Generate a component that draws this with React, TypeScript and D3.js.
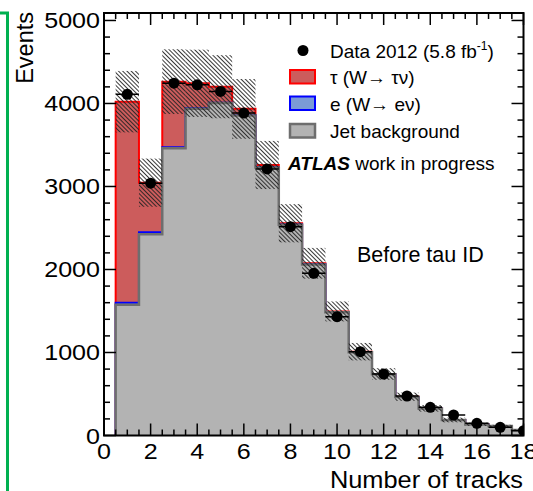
import React from 'react';
import * as d3 from 'd3';

const W = 533;
const H = 491;

// bin centres (number of tracks)
const bins = [1, 2, 3, 4, 5, 6, 7, 8, 9, 10, 11, 12, 13, 14, 15, 16, 17, 18];
const jetBackground = [1575, 2425, 3460, 3935, 4005, 3855, 3228, 2540, 2060, 1484, 1003, 737, 464, 326, 186, 134, 113, 66];
const electronWev = [25, 23, 12, 7, 5, 4, 3, 2, 2, 1, 1, 0, 0, 0, 0, 0, 0, 0];
const tauWtaunu = [2422, 598, 791, 301, 192, 76, 28, 15, 13, 10, 6, 4, 3, 2, 1, 1, 1, 0];
const data2012 = [4110, 3040, 4245, 4225, 4145, 3885, 3211, 2516, 1954, 1431, 1010, 741, 476, 340, 247, 147, 99, 58];
const systErr = [370, 290, 390, 405, 380, 360, 290, 230, 185, 120, 105, 70, 50, 40, 28, 20, 15, 10];

const xTickLabels = [0, 2, 4, 6, 8, 10, 12, 14, 16, 18];
const yTickLabels = [0, 1000, 2000, 3000, 4000, 5000];

const FONT = "'Liberation Sans', Arial, Helvetica, sans-serif";

const left = 104, right = 523.5, top = 13, bottom = 435.5;
const x = d3.scaleLinear().domain([0, 18]).range([left, right]);
const y = d3.scaleLinear().domain([0, 5090]).range([bottom, top]);

const jetStack = jetBackground;
const eStack = jetBackground.map((v, i) => v + electronWev[i]);
const tauStack = eStack.map((v, i) => v + tauWtaunu[i]);

function stepPath(vals: number[]): string {
  const pts: [number, number][] = [[bins[0] - 0.5, 0]];
  bins.forEach((b, i) => {
    pts.push([b - 0.5, vals[i]]);
    pts.push([b + 0.5, vals[i]]);
  });
  pts.push([bins[bins.length - 1] + 0.5, 0]);
  const line = d3.line<[number, number]>().x(d => x(d[0])).y(d => y(d[1]));
  return line(pts) as string;
}

export default function App() {
  const yMinor = d3.range(0, 5001, 200);
  const xMinor = d3.range(0, 18.001, 0.5);
  const fx = (v: number) => xTickLabels.includes(v);
  return (
    <svg width={W} height={H} style={{ position: 'absolute', left: 0, top: 0, background: '#fff' }} fontFamily={FONT}>
      <defs>
        <clipPath id="frame">
          <rect x={left} y={top} width={right - left} height={bottom - top} />
        </clipPath>
        <pattern id="hatch" patternUnits="userSpaceOnUse" width={3} height={3} patternTransform="rotate(-45)">
          <line x1={0.5} y1={0} x2={0.5} y2={3} stroke="#222" strokeWidth={0.9} />
        </pattern>
      </defs>
      <rect x={0} y={0} width={W} height={H} fill="#fff" />

      {/* green bracket */}
      <path d={`M0,${13} H7.5 V${H}`} fill="none" stroke="#00b050" strokeWidth={3} />

      <g clipPath="url(#frame)">
        <path d={stepPath(tauStack)} fill="#cc5c5c" stroke="#ff0000" strokeWidth={2} />
        <path d={stepPath(eStack)} fill="#7b9bd6" stroke="#0000ff" strokeWidth={2} />
        <path d={stepPath(jetStack)} fill="#b3b3b3" stroke="#6e6e6e" strokeWidth={2.5} />
        {bins.map((b, i) => (
          <rect key={'h' + b} x={x(b - 0.5)} width={x(b + 0.5) - x(b - 0.5)}
            y={y(tauStack[i] + systErr[i])} height={y(tauStack[i] - systErr[i]) - y(tauStack[i] + systErr[i])}
            fill="url(#hatch)" />
        ))}
        {bins.map((b, i) => (
          <g key={'d' + b}>
            <line x1={x(b - 0.5)} x2={x(b + 0.5)} y1={y(data2012[i])} y2={y(data2012[i])} stroke="#000" strokeWidth={1.5} />
            <circle cx={x(b)} cy={y(data2012[i])} r={5.5} fill="#000" />
          </g>
        ))}
      </g>

      {/* frame */}
      <rect x={left} y={top} width={right - left} height={bottom - top} fill="none" stroke="#000" strokeWidth={2} />
      {/* y ticks */}
      {yMinor.map(v => {
        const major = v % 1000 === 0;
        const len = major ? 12 : 6;
        return (
          <g key={'yt' + v}>
            <line x1={left} x2={left + len} y1={y(v)} y2={y(v)} stroke="#000" strokeWidth={1.5} />
            <line x1={right} x2={right - len} y1={y(v)} y2={y(v)} stroke="#000" strokeWidth={1.5} />
          </g>
        );
      })}
      {xMinor.map(v => {
        const major = fx(v);
        const len = major ? 12 : 6;
        return (
          <g key={'xt' + v}>
            <line x1={x(v)} x2={x(v)} y1={bottom} y2={bottom - len} stroke="#000" strokeWidth={1.5} />
            <line x1={x(v)} x2={x(v)} y1={top} y2={top + len} stroke="#000" strokeWidth={1.5} />
          </g>
        );
      })}
      {yTickLabels.map(v => (
        <text key={'yl' + v} transform={`translate(100,${y(v) + 8}) scale(1.14,1)`} textAnchor="end" fontSize={22} fill="#000">{v}</text>
      ))}
      {xTickLabels.map(v => (
        <text key={'xl' + v} transform={`translate(${x(v)},459) scale(1.14,1)`} textAnchor="middle" fontSize={22} fill="#000">{v}</text>
      ))}
      <text transform="translate(523,488) scale(1.08,1)" textAnchor="end" fontSize={23.5} fill="#000">Number of tracks</text>
      <text transform="translate(33,12) rotate(-90)" textAnchor="end" fontSize={23.5} fill="#000">Events</text>

      {/* legend */}
      <circle cx={303} cy={50.5} r={5.5} fill="#000" />
      <text x={330} y={57.5} fontSize={19} fill="#000">Data 2012 (5.8 fb<tspan fontSize={12} dy={-8}>-1</tspan><tspan dy={8}>)</tspan></text>
      <rect x={290} y={70} width={25} height={13.5} fill="#cc5c5c" stroke="#ff0000" strokeWidth={2} />
      <text x={330} y={84} fontSize={19} fill="#000">τ (W→ τν)</text>
      <rect x={290} y={96.5} width={25} height={13.5} fill="#7b9bd6" stroke="#0000ff" strokeWidth={2} />
      <text x={330} y={110.5} fontSize={19} fill="#000">e (W→ eν)</text>
      <rect x={290} y={124} width={25} height={13.5} fill="#b3b3b3" stroke="#6e6e6e" strokeWidth={2.5} />
      <text x={330} y={138} fontSize={19} fill="#000">Jet background</text>
      <text x={288} y={170} fontSize={19} fill="#000"><tspan fontWeight="bold" fontStyle="italic">ATLAS</tspan> work in progress</text>
      <text x={357} y={261.5} fontSize={21.5} fill="#000">Before tau ID</text>
    </svg>
  );
}
